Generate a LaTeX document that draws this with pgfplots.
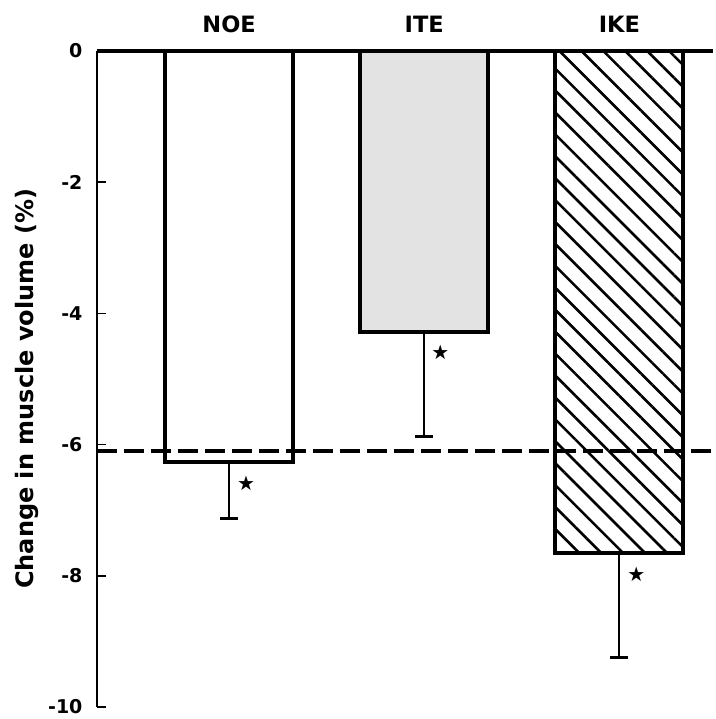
\documentclass[border=0pt]{standalone}
\usepackage{fontspec}
\setmainfont{DejaVu Sans}
\newfontfamily\dejavu{DejaVu Sans}
\usepackage{pgfplots}
\pgfplotsset{compat=1.18}
\usetikzlibrary{patterns.meta}
\begin{document}
\begin{tikzpicture}
\begin{axis}[
  name=ax,
  scale only axis,
  width=616pt, height=656pt,
  xmin=-0.677, xmax=2.48,
  ymin=-10, ymax=0,
  enlargelimits=false,
  axis x line*=top,
  axis y line*=left,
  x axis line style={line width=3.5pt},
  y axis line style={line width=2pt},
  xtick={0,1,2},
  xticklabels={NOE,ITE,IKE},
  x tick style={draw=none},
  major x tick style={draw=none},
  xticklabel style={font=\bfseries\fontsize{22.5}{22.5}\selectfont, yshift=6pt},
  ytick={-10,-8,-6,-4,-2,0},
  tick align=inside,
  major tick length=9pt,
  y tick style={line width=1.5pt, black},
  yticklabel style={font=\bfseries\fontsize{19}{19}\selectfont, xshift=-11pt},
  /pgf/number format/assume math mode=true,
  ylabel={Change in muscle volume (\%)},
  ylabel style={font=\bfseries\fontsize{24}{24}\selectfont, at={(axis description cs:-0.113,0.485)}, anchor=center, rotate=0},
  ybar, bar shift=0pt, bar width=0.656,
  clip=false,
]
\addplot[draw=black, line width=4.2pt, fill=white,
  error bars/.cd, y dir=minus, y explicit,
  error bar style={line width=2pt, black},
  error mark options={line width=3pt, mark size=9pt, rotate=90}]
  coordinates {(0,-6.27) -= (0,0.85)};
\addplot[draw=black, line width=4.2pt, fill=gray!22,
  error bars/.cd, y dir=minus, y explicit,
  error bar style={line width=2pt, black},
  error mark options={line width=3pt, mark size=9pt, rotate=90}]
  coordinates {(1,-4.28) -= (1,1.59)};
\addplot[draw=black, line width=4.2pt,
  postaction={pattern={Lines[angle=-45, distance=15.5pt, line width=2.6pt]}, pattern color=black},
  fill=white,
  error bars/.cd, y dir=minus, y explicit,
  error bar style={line width=2pt, black},
  error mark options={line width=3pt, mark size=9pt, rotate=90}]
  coordinates {(2,-7.65) -= (2,1.6)};
\addplot[sharp plot, black, line width=4pt, dash pattern=on 20pt off 7pt, forget plot]
  coordinates {(-0.677,-6.1) (2.48,-6.1)};
\node[font=\dejavu\fontsize{20}{20}\selectfont] at (axis cs:0.087,-6.59) {★};
\node[font=\dejavu\fontsize{20}{20}\selectfont] at (axis cs:1.082,-4.59) {★};
\node[font=\dejavu\fontsize{20}{20}\selectfont] at (axis cs:2.087,-7.97) {★};
\end{axis}
\path ([xshift=-97pt,yshift=51pt]ax.north west) ([yshift=-12pt]ax.south east);
\end{tikzpicture}
\end{document}
